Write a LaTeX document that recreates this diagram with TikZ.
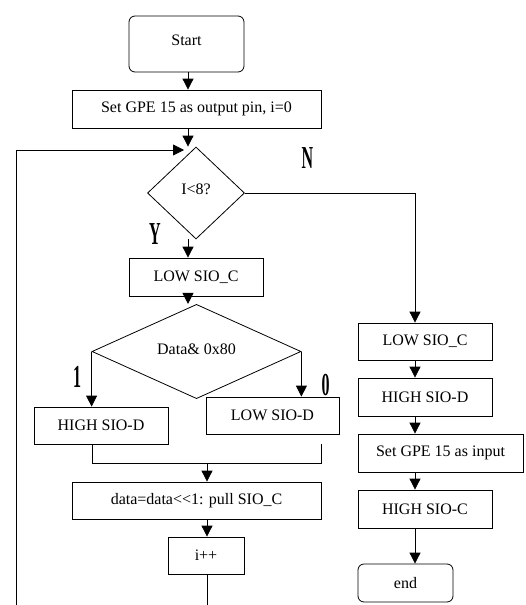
\documentclass[tikz,border=0pt]{standalone}
\usepackage{fontspec}
\setmainfont{Liberation Serif}
\usetikzlibrary{shapes,arrows.meta,positioning,calc}
\newcommand{\branchtag}[1]{\scalebox{0.5}[1]{\fontsize{32}{32}\selectfont\bfseries #1}}

\begin{document}
\begin{tikzpicture}[x=1pt, y=-1pt,
    box/.style={draw, rectangle, line width=0.8pt, inner sep=0pt, font=\fontsize{16}{18}\selectfont},
    term/.style={box, rounded corners=6pt},
    decide/.style={draw, diamond, line width=0.8pt, inner sep=0pt, font=\fontsize{16}{18}\selectfont},
    flow/.style={line width=0.8pt},
    arr/.style={flow, -{Triangle[length=11pt,width=11pt]}},
    tag/.style={inner sep=0pt}]
    \useasboundingbox (0,0) rectangle (525,605);

    % Main column
    \node[term, minimum width=115pt, minimum height=56pt] (start) at (186.5,44) {\raisebox{7pt}{Start}};
    \node[box, minimum width=249pt, minimum height=38pt] (setout) at (196.5,109) {Set GPE 15 as output pin, i=0};
    \node[decide, minimum width=97pt, minimum height=92pt] (lessthan) at (196,193) {\raisebox{8pt}{I<8?}};
    \node[box, minimum width=134pt, minimum height=38pt] (lowc) at (196,277) {LOW SIO\_C};
    \node[decide, minimum width=209pt, minimum height=73pt] (bitcheck) at (196.5,351.5) {\raisebox{5pt}{Data\& 0x80}};
    \node[box, minimum width=134pt, minimum height=37pt] (highd) at (101,425.5) {HIGH SIO-D};
    \node[box, minimum width=133pt, minimum height=37pt] (lowd) at (272.5,415.5) {LOW SIO-D};
    \node[box, minimum width=249pt, minimum height=37pt] (shift) at (196.5,500.5) {data=data{<}{<}1: pull SIO\_C};
    \node[box, minimum width=76pt, minimum height=37pt] (incr) at (206,555.5) {i++};

    % Exit column
    \node[box, minimum width=134pt, minimum height=37pt] (lowc2) at (425,341.5) {LOW SIO\_C};
    \node[box, minimum width=134pt, minimum height=38pt] (highd2) at (425,397) {HIGH SIO-D};
    \node[box, minimum width=165pt, minimum height=38pt] (setin) at (440.5,453) {Set GPE 15 as input};
    \node[box, minimum width=134pt, minimum height=38pt] (highc2) at (425,509) {HIGH SIO-C};
    \node[term, minimum width=95pt, minimum height=38pt] (finish) at (405.5,583) {end};

    % Helper points
    \coordinate (ax) at (188,0);
    \coordinate (nx) at (415,0);
    \coordinate (mx) at (207,0);
    \coordinate (loopB) at (16,605);
    \coordinate (loopT) at (16,150);
    \coordinate (loopE) at (184,150);
    \coordinate (joinL) at (92,463);
    \coordinate (joinR) at (321,444);

    % Connectors
    \draw[arr] (start.south -| ax) -- (setout.north -| ax);
    \draw[arr] (setout.south -| ax) -- (lessthan.north -| ax);
    \draw[arr] (loopB) -- (loopT) -- (loopE);
    \draw[arr] (lessthan.south -| ax) -- (lowc.north -| ax);
    \draw[arr] (lowc.south -| ax) -- (bitcheck.north -| ax);
    \draw[arr] (bitcheck.west) -- (highd.north -| bitcheck.west);
    \draw[arr] (bitcheck.east) -- (lowd.north -| bitcheck.east);
    \draw[flow] (highd.south -| joinL) -- (joinL) -| (joinR);
    \draw[arr] (joinL -| mx) -- (shift.north -| mx);
    \draw[arr] (shift.south -| mx) -- (incr.north -| mx);
    \draw[flow] (incr.south -| mx) -- (loopB -| mx);

    \draw[arr] (lessthan.east) -| (lowc2.north -| nx);
    \draw[arr] (lowc2.south -| nx) -- (highd2.north -| nx);
    \draw[arr] (highd2.south -| nx) -- (setin.north -| nx);
    \draw[arr] (setin.south -| nx) -- (highc2.north -| nx);
    \draw[arr] (highc2.south -| nx) -- (finish.north -| nx);

    % Branch labels
    \node[tag] (tagN) at (307.5,158) {\branchtag{N}};
    \node[tag] (tagY) at (155,234) {\branchtag{Y}};
    \node[tag] (tagOne) at (77,377) {\branchtag{1}};
    \node[tag] (tagZero) at (325.5,385) {\branchtag{0}};
\end{tikzpicture}
\end{document}
